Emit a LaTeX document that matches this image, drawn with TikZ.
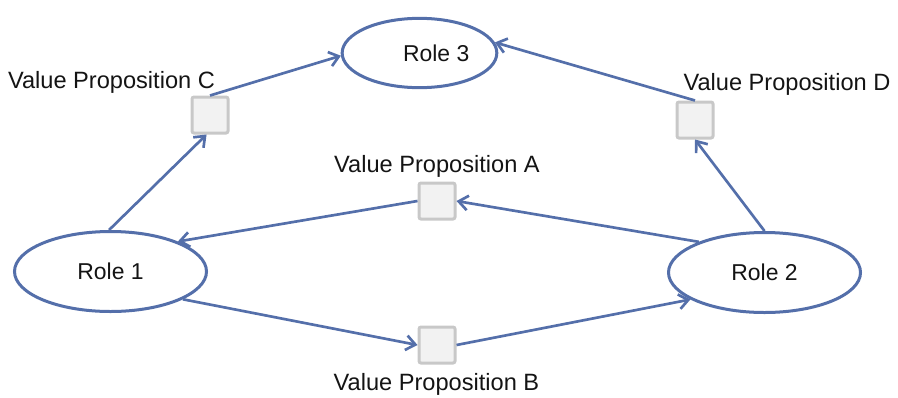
\documentclass[tikz,border=0pt]{standalone}
\usepackage{fontspec}
\setmainfont{Liberation Sans}
\usetikzlibrary{shapes.geometric,arrows.meta}
\definecolor{edgeblue}{RGB}{84,111,170}
\definecolor{boxfill}{RGB}{242,242,242}
\definecolor{boxline}{RGB}{200,200,200}
\definecolor{txt}{RGB}{20,20,20}
\begin{document}
\begin{tikzpicture}[x=0.75pt,y=-0.75pt,
  role/.style={ellipse,draw=edgeblue,line width=2.25pt,fill=white,inner sep=0pt,text=txt,font=\fontsize{17.2}{20}\selectfont},
  vpbox/.style={rectangle,draw=boxline,fill=boxfill,line width=2.25pt,rounded corners=1.5pt,minimum size=27pt,inner sep=0pt},
  lbl/.style={font=\fontsize{17.7}{21}\selectfont,inner sep=0pt,anchor=base,text=txt},
  conn/.style={draw=edgeblue,line width=2pt,-{Straight Barb[length=7pt,width=11pt,line width=2pt]}}]
\useasboundingbox (0,0) rectangle (898,397);
\node[role,minimum width=116pt,minimum height=52pt] (r3) at (419.5,53) {\hspace*{25pt}Role 3};
\node[role,minimum width=144pt,minimum height=60pt] (r1) at (110.5,271.5) {Role 1};
\node[role,minimum width=144pt,minimum height=60pt] (r2) at (764.5,272.5) {Role 2};
\node[vpbox] (c) at (210,115) {};
\node[vpbox] (d) at (695,120) {};
\node[vpbox] (a) at (437,201) {};
\node[vpbox] (b) at (437,345) {};
\node[lbl] (lc) at (111.5,88) {Value Proposition C};
\node[lbl] (ld) at (787,90) {Value Proposition D};
\node[lbl] (la) at (437,172) {Value Proposition A};
\node[lbl] (lb) at (436.5,390) {Value Proposition B};
\draw[conn] (r1.92) -- (c.-100);
\draw[conn] (c.north) -- (r3.182);
\draw[conn] (r2.90) -- (d.south);
\draw[conn] (d.north) -- (r3.8);
\draw[conn] (r2.155) -- (a.east);
\draw[conn] (a.west) -- (r1.24);
\draw[conn] (r1.-21) -- (b.west);
\draw[conn] (b.east) -- (r2.200);
\end{tikzpicture}
\end{document}
